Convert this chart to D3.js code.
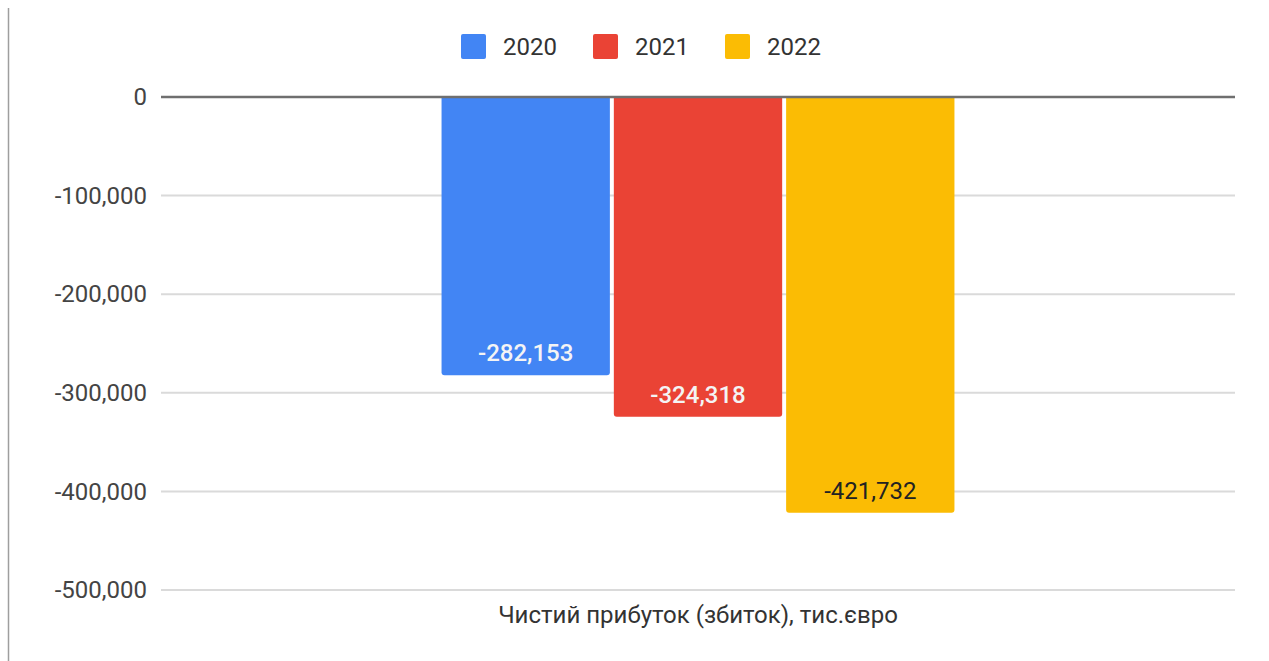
<!DOCTYPE html>
<html>
<head>
<meta charset="utf-8">
<script src="https://cdn.jsdelivr.net/npm/d3@7"></script>
<style>
  body { margin: 0; background: #fff; }
  svg { display: block; font-family: Roboto, "Noto Sans", sans-serif; }
</style>
</head>
<body>
<svg width="1269" height="661"></svg>
<script>
// дані
const categories = ["Чистий прибуток (збиток), тис.євро"];
const years = ["2020", "2021", "2022"];
const values = [-282153, -324318, -421732];
const colors = ["#4285F4", "#EA4335", "#FBBC04"];
const labelColors = ["#f4f4f4", "#f4f4f4", "#222222"];
const tickValues = [0, -100000, -200000, -300000, -400000, -500000];

const svg = d3.select("svg");
// звичайний дефіс замість знака мінус
const fmt = d3.formatLocale({ decimal: ".", thousands: ",", grouping: [3], currency: ["", ""], minus: "-" }).format(",");

// рамка зліва
svg.append("line")
  .attr("x1", 8.5).attr("x2", 8.5)
  .attr("y1", 8).attr("y2", 661)
  .attr("stroke", "#9e9e9e").attr("stroke-width", 1.5);

const left = 161, right = 1235;

const x = d3.scaleBand()
  .domain(categories)
  .range([left, right])
  .paddingInner(0)
  .paddingOuter(0.547);

const xs = d3.scaleBand()
  .domain(years)
  .range([0, x.bandwidth()])
  .paddingInner(0.023);

const y = d3.scaleLinear()
  .domain([-500000, 0])
  .range([590, 97]);

// сітка
svg.append("g")
  .selectAll("line")
  .data(tickValues.filter(d => d !== 0))
  .join("line")
  .attr("x1", left).attr("x2", right)
  .attr("y1", d => y(d)).attr("y2", d => y(d))
  .attr("stroke", "#dadada").attr("stroke-width", 2);

// підписи осі Y
const yAxis = svg.append("g")
  .attr("transform", `translate(${left},0)`)
  .call(d3.axisLeft(y).tickValues(tickValues).tickFormat(fmt).tickSize(0).tickPadding(14));
yAxis.select(".domain").remove();
yAxis.selectAll("text")
  .attr("font-size", 24)
  .attr("font-family", "Roboto, sans-serif")
  .attr("fill", "#444");

// стовпчики (прямі верхні кути, заокруглені нижні)
const g = svg.append("g");
g.selectAll("path")
  .data(values)
  .join("path")
  .attr("d", (d, i) => {
    const x0 = x(categories[0]) + xs(years[i]);
    const w = xs.bandwidth();
    const y0 = y(0), y1 = y(d), r = 3;
    return `M${x0},${y0}H${x0 + w}V${y1 - r}Q${x0 + w},${y1} ${x0 + w - r},${y1}` +
      `H${x0 + r}Q${x0},${y1} ${x0},${y1 - r}Z`;
  })
  .attr("fill", (d, i) => colors[i]);

g.selectAll("text")
  .data(values)
  .join("text")
  .attr("x", (d, i) => x(categories[0]) + xs(years[i]) + xs.bandwidth() / 2)
  .attr("y", d => y(d) - 14)
  .attr("text-anchor", "middle")
  .attr("font-size", 24)
  .attr("font-weight", (d, i) => i < 2 ? 500 : 400)
  .attr("fill", (d, i) => labelColors[i])
  .text(d => fmt(d));

// нульова лінія
svg.append("line")
  .attr("x1", left).attr("x2", right)
  .attr("y1", y(0)).attr("y2", y(0))
  .attr("stroke", "#6f6f6f").attr("stroke-width", 2.5);

// назва категорії
svg.append("text")
  .attr("x", x(categories[0]) + x.bandwidth() / 2)
  .attr("y", 623)
  .attr("text-anchor", "middle")
  .attr("font-size", 24)
  .attr("fill", "#333")
  .text(categories[0]);

// легенда
const legend = svg.append("g").attr("transform", "translate(461,34)");
const item = legend.selectAll("g")
  .data(years)
  .join("g")
  .attr("transform", (d, i) => `translate(${i * 132},0)`);
item.append("rect")
  .attr("width", 25).attr("height", 25).attr("rx", 2)
  .attr("fill", (d, i) => colors[i]);
item.append("text")
  .attr("x", 42).attr("y", 21)
  .attr("font-size", 24)
  .attr("fill", "#333")
  .text(d => d);
</script>
</body>
</html>
